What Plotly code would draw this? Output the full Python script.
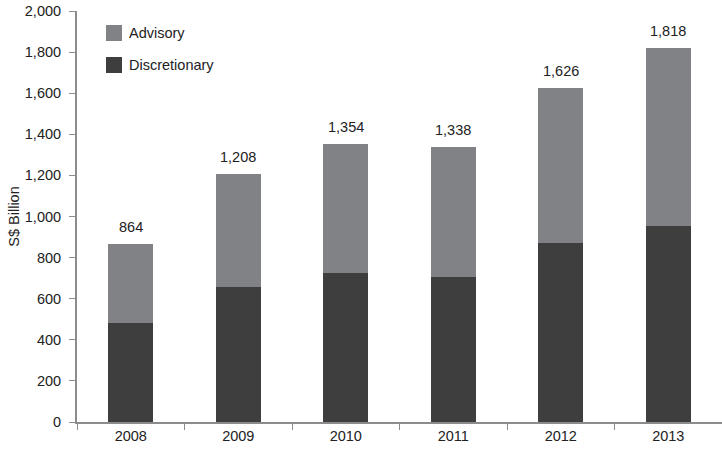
import plotly.graph_objects as go

years = ["2008", "2009", "2010", "2011", "2012", "2013"]
totals = [864, 1208, 1354, 1338, 1626, 1818]
discretionary = [484, 659, 723, 707, 872, 955]
advisory = [t - d for t, d in zip(totals, discretionary)]
total_labels = ["864", "1,208", "1,354", "1,338", "1,626", "1,818"]

c_adv = "#818285"
c_dis = "#3e3e3e"
txt = "#222222"
axis_col = "#8c8c8c"
font_family = "Liberation Sans, Arial, sans-serif"
fs = 14.5

fig = go.Figure()
fig.add_trace(go.Bar(x=years, y=discretionary, name="Discretionary",
                     marker=dict(color=c_dis, line=dict(width=0)), width=0.42))
fig.add_trace(go.Bar(x=years, y=advisory, name="Advisory",
                     marker=dict(color=c_adv, line=dict(width=0)), width=0.42))

for i, (tot, lab) in enumerate(zip(totals, total_labels)):
    fig.add_annotation(x=i, y=tot, text=lab, showarrow=False,
                       yanchor="bottom", yshift=7,
                       font=dict(size=fs, color=txt, family=font_family))

# legend drawn as shapes + text
legend_items = [("Advisory", c_adv), ("Discretionary", c_dis)]
for i, (name, col) in enumerate(legend_items):
    y0 = 25 + i * 32
    fig.add_shape(type="rect", xref="paper", yref="paper",
                  x0=(106 - 77) / 645, x1=(122 - 77) / 645,
                  y0=1 - (y0 + 16 - 11) / 411, y1=1 - (y0 - 11) / 411,
                  fillcolor=col, line=dict(width=0))
    fig.add_annotation(xref="paper", yref="paper", x=(127 - 77) / 645,
                       y=1 - (y0 + 8 - 11) / 411, text=name, showarrow=False,
                       xanchor="left", yanchor="middle",
                       font=dict(size=fs, color=txt, family=font_family))

fig.update_layout(
    barmode="stack",
    width=722, height=452,
    margin=dict(l=77, r=0, t=11, b=30),
    paper_bgcolor="white", plot_bgcolor="white",
    showlegend=False,
    font=dict(family=font_family, size=fs, color=txt),
)
fig.update_xaxes(type="category", showline=True, linecolor=axis_col, linewidth=2,
                 ticks="outside", tickson="boundaries", ticklen=6,
                 tickcolor=axis_col, tickwidth=1,
                 tickfont=dict(size=fs, color=txt), showgrid=False)
fig.update_yaxes(range=[0, 2000], dtick=200, tickformat=",",
                 showline=True, linecolor=axis_col, linewidth=2,
                 ticks="outside", ticklen=6, tickcolor=axis_col, tickwidth=1,
                 ticklabelstandoff=5,
                 tickfont=dict(size=fs, color=txt), showgrid=False,
                 zeroline=False,
                 title=dict(text="S$ Billion", font=dict(size=fs, color=txt), standoff=2))

fig.write_html("out.html")
